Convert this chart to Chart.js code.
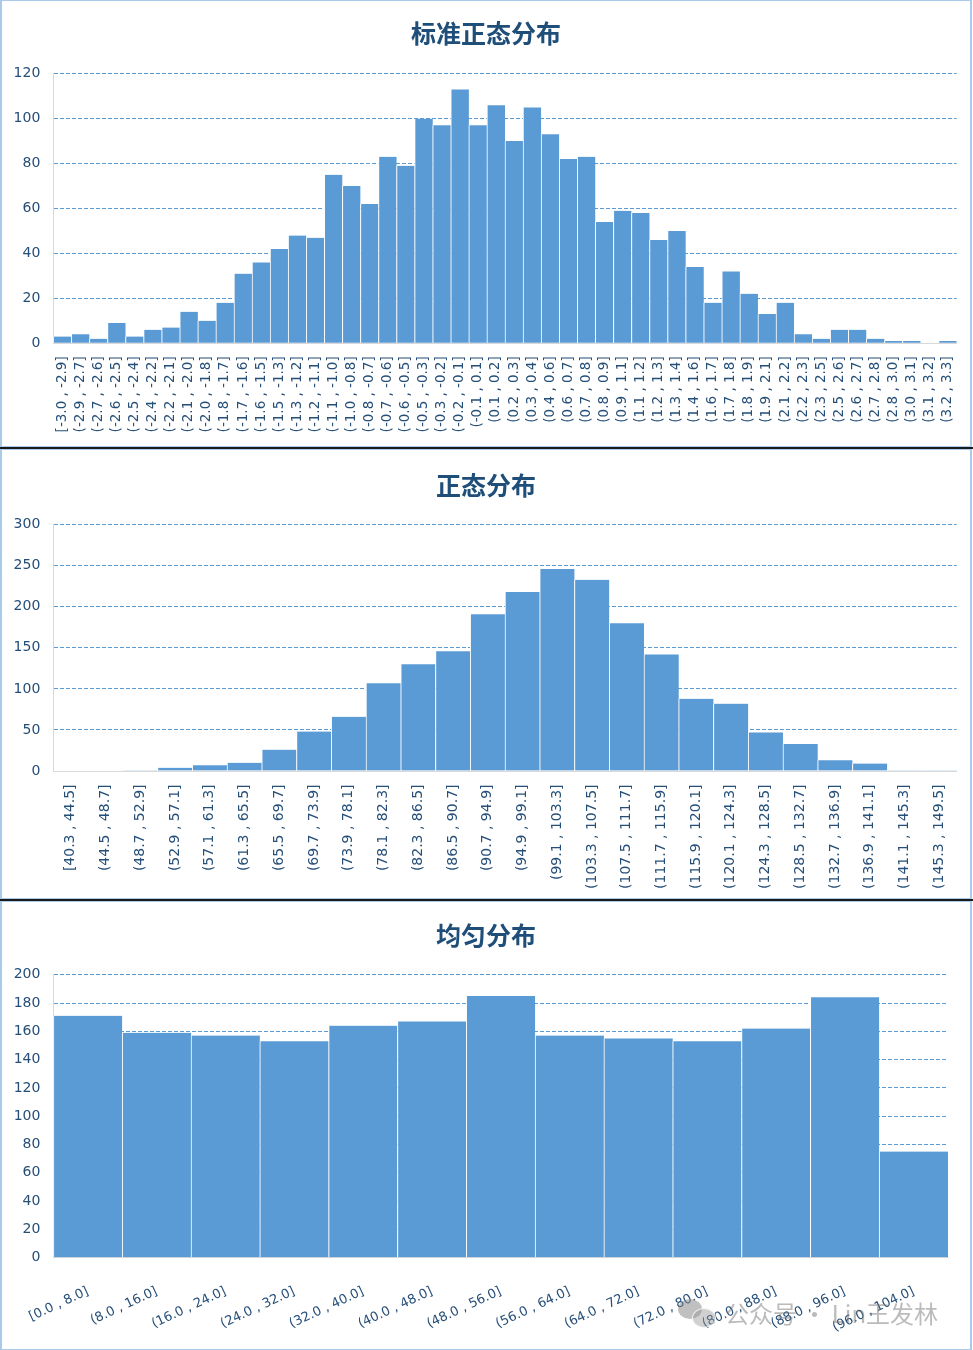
<!DOCTYPE html>
<html>
<head>
<meta charset="utf-8">
<script src="https://cdn.jsdelivr.net/npm/chart.js@4.4.1/dist/chart.umd.min.js"></script>
<style>
  html, body { margin: 0; padding: 0; background: #ffffff; }
  body { position: relative; width: 973px; height: 1350px; overflow: hidden; }
  .panel { position: absolute; left: 0; width: 972px; box-sizing: border-box;
           border: 1px solid #A9CBEA; border-left-width: 2px; border-right-width: 2px; background: #fff; }
  .sep { position: absolute; left: 0; width: 973px; height: 2px; background: #1b1b1b; }
  canvas { position: absolute; left: 2px; }
  .wm { position: absolute; left: 725px; top: 1295px; font: 24px "Noto Sans CJK SC", sans-serif;
        color: rgba(120,120,120,0.5); white-space: nowrap; }
  .wx1 { position: absolute; left: 678px; top: 1299px; width: 24px; height: 20px; border-radius: 50%;
         background: rgba(130,130,130,0.5); }
  .wx2 { position: absolute; left: 692px; top: 1308px; width: 22px; height: 18px; border-radius: 50%;
         background: rgba(150,150,150,0.45); border: 1px solid rgba(255,255,255,0.8); }
</style>
</head>
<body>
<div class="panel" style="top:0;height:447px;"></div>
<div class="sep" style="top:447px;"></div>
<div class="panel" style="top:449px;height:450px;"></div>
<div class="sep" style="top:899px;"></div>
<div class="panel" style="top:901px;height:449px;"></div>

<canvas id="c1" width="968" height="445" style="top:1px;"></canvas>
<canvas id="c2" width="968" height="448" style="top:450px;"></canvas>
<canvas id="c3" width="968" height="447" style="top:902px;"></canvas>

<div class="wx1"></div><div class="wx2"></div>
<div class="wm">公众号 · Lin王发林</div>

<script>
// ---------- data ----------
const titles = ['标准正态分布', '正态分布', '均匀分布'];

const cats1 = ['[-3.0 , -2.9]','(-2.9 , -2.7]','(-2.7 , -2.6]','(-2.6 , -2.5]','(-2.5 , -2.4]','(-2.4 , -2.2]',
  '(-2.2 , -2.1]','(-2.1 , -2.0]','(-2.0 , -1.8]','(-1.8 , -1.7]','(-1.7 , -1.6]','(-1.6 , -1.5]','(-1.5 , -1.3]',
  '(-1.3 , -1.2]','(-1.2 , -1.1]','(-1.1 , -1.0]','(-1.0 , -0.8]','(-0.8 , -0.7]','(-0.7 , -0.6]','(-0.6 , -0.5]',
  '(-0.5 , -0.3]','(-0.3 , -0.2]','(-0.2 , -0.1]','(-0.1 , 0.1]','(0.1 , 0.2]','(0.2 , 0.3]','(0.3 , 0.4]',
  '(0.4 , 0.6]','(0.6 , 0.7]','(0.7 , 0.8]','(0.8 , 0.9]','(0.9 , 1.1]','(1.1 , 1.2]','(1.2 , 1.3]','(1.3 , 1.4]',
  '(1.4 , 1.6]','(1.6 , 1.7]','(1.7 , 1.8]','(1.8 , 1.9]','(1.9 , 2.1]','(2.1 , 2.2]','(2.2 , 2.3]','(2.3 , 2.5]',
  '(2.5 , 2.6]','(2.6 , 2.7]','(2.7 , 2.8]','(2.8 , 3.0]','(3.0 , 3.1]','(3.1 , 3.2]','(3.2 , 3.3]'];
const vals1 = [3,4,2,9,3,6,7,14,10,18,31,36,42,48,47,75,70,62,83,79,100,97,113,97,106,90,105,93,82,83,
  54,59,58,46,50,34,18,32,22,13,18,4,2,6,6,2,1,1,0,1];
const yTicks1 = [0,20,40,60,80,100,120];

const cats2 = ['[40.3 , 44.5]','(44.5 , 48.7]','(48.7 , 52.9]','(52.9 , 57.1]','(57.1 , 61.3]','(61.3 , 65.5]',
  '(65.5 , 69.7]','(69.7 , 73.9]','(73.9 , 78.1]','(78.1 , 82.3]','(82.3 , 86.5]','(86.5 , 90.7]','(90.7 , 94.9]',
  '(94.9 , 99.1]','(99.1 , 103.3]','(103.3 , 107.5]','(107.5 , 111.7]','(111.7 , 115.9]','(115.9 , 120.1]',
  '(120.1 , 124.3]','(124.3 , 128.5]','(128.5 , 132.7]','(132.7 , 136.9]','(136.9 , 141.1]','(141.1 , 145.3]',
  '(145.3 , 149.5]'];
const vals2 = [0,0,1,4,7,10,26,48,66,107,130,146,191,218,246,233,180,142,88,82,47,33,13,9,1,1];
const yTicks2 = [0,50,100,150,200,250,300];

const cats3 = ['[0.0 , 8.0]','(8.0 , 16.0]','(16.0 , 24.0]','(24.0 , 32.0]','(32.0 , 40.0]','(40.0 , 48.0]',
  '(48.0 , 56.0]','(56.0 , 64.0]','(64.0 , 72.0]','(72.0 , 80.0]','(80.0 , 88.0]','(88.0 , 96.0]','(96.0 , 104.0]'];
const vals3 = [171,159,157,153,164,167,185,157,155,153,162,184,75];
const yTicks3 = [0,20,40,60,80,100,120,140,160,180,200];

// ---------- styling ----------
const BAR = '#5B9BD5';
const TXT = '#264F78';
const TITLE = '#1F4E79';
const FONT = '"DejaVu Sans", Verdana, sans-serif';

function makeChart(id, title, cats, vals, yTicks, cfg) {
  const ymax = yTicks[yTicks.length - 1];
  return new Chart(document.getElementById(id), {
    type: 'bar',
    data: {
      labels: cats,
      datasets: [{
        data: vals,
        backgroundColor: BAR,
        borderColor: '#ffffff',
        borderWidth: {left: 1, right: 0, top: 0, bottom: 0},
        borderSkipped: false,
        barPercentage: 1,
        categoryPercentage: 1
      }]
    },
    options: {
      responsive: false,
      animation: false,
      devicePixelRatio: 1,
      layout: { padding: 0 },
      plugins: {
        legend: { display: false },
        tooltip: { enabled: false },
        title: {
          display: true,
          text: title,
          color: TITLE,
          font: { family: '"Noto Sans CJK SC", sans-serif', size: 25, weight: 'bold', lineHeight: 1.2 },
          padding: { top: cfg.titleTop, bottom: cfg.titleBottom }
        }
      },
      scales: {
        x: {
          grid: { display: true, drawOnChartArea: false, drawTicks: true, tickLength: cfg.xPad,
                  color: 'rgba(0,0,0,0)' },
          border: { display: true, color: '#D9D9D9', width: 1 },
          ticks: {
            autoSkip: false,
            minRotation: cfg.rot, maxRotation: cfg.rot,
            padding: 0,
            color: TXT,
            font: { family: FONT, size: cfg.xFont }
          },
          afterFit: (s) => { s.height = cfg.xHeight; }
        },
        y: {
          min: 0, max: ymax,
          afterBuildTicks: (s) => { s.ticks = yTicks.map(v => ({ value: v })); },
          grid: {
            drawTicks: false,
            color: (c) => (c.tick && c.tick.value === 0) ? 'rgba(0,0,0,0)' : '#5B9BD5',
            lineWidth: 1
          },
          border: { display: true, color: '#D9D9D9', width: 1, dash: [4, 2] },
          ticks: {
            padding: 13,
            color: TXT,
            font: { family: FONT, size: 14 }
          },
          afterFit: (s) => { s.width = cfg.yWidth; }
        },
        // empty right-hand spacer so the title stays centred on the full canvas
        spacer: {
          type: 'linear',
          position: 'right',
          display: true,
          grid: { display: false, drawTicks: false },
          border: { display: false },
          ticks: { display: false },
          afterFit: (s) => { s.width = cfg.rightGap; }
        }
      }
    }
  });
}

makeChart('c1', titles[0], cats1, vals1, yTicks1,
  { yWidth: 51.3, rightGap: 13.3, titleTop: 17.7, titleBottom: 25.0, xHeight: 102.7, rot: 90, xPad: 13, xFont: 13.5 });
makeChart('c2', titles[1], cats2, vals2, yTicks2,
  { yWidth: 51.3, rightGap: 13.3, titleTop: 20.0, titleBottom: 24.7, xHeight: 127, rot: 90, xPad: 13.5, xFont: 14 });
makeChart('c3', titles[2], cats3, vals3, yTicks3,
  { yWidth: 51.4, rightGap: 22, titleTop: 18.0, titleBottom: 24.7, xHeight: 91.3, rot: 25, xPad: 26, xFont: 13 });
</script>
</body>
</html>
